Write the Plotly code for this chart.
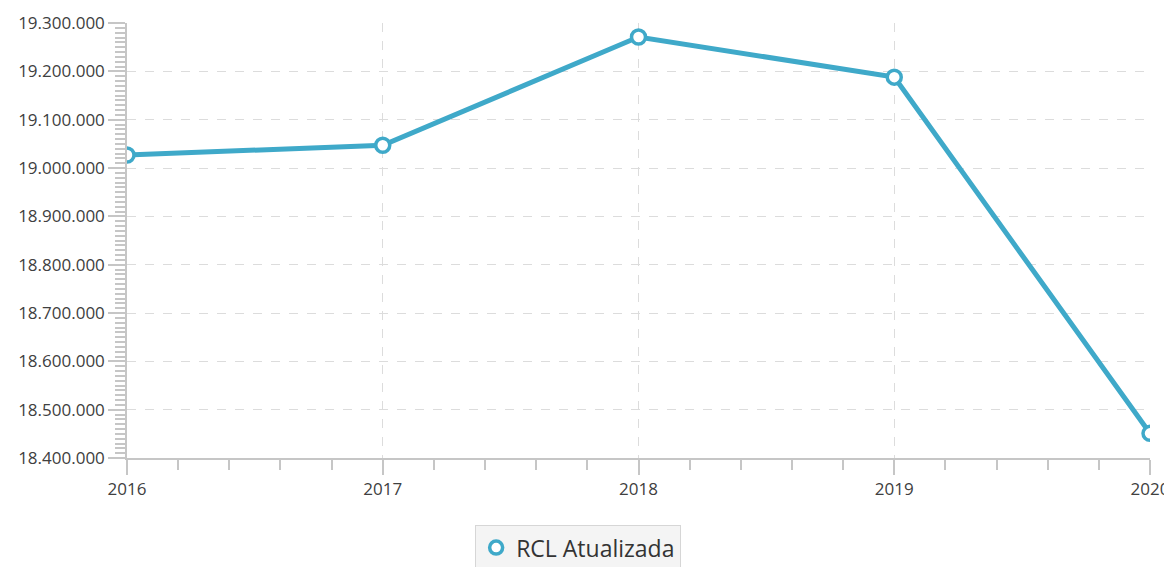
import plotly.graph_objects as go

years = [2016, 2017, 2018, 2019, 2020]
rcl_values = [19027000, 19047000, 19271000, 19188000, 18451000]
series_name = "RCL Atualizada"

line_color = "#3fa9c9"
axis_color = "#c6c6c6"
grid_color = "#dcdcdc"
font_family = "Open Sans, Noto Sans, sans-serif"

fig = go.Figure()
fig.add_trace(go.Scatter(
    x=years, y=rcl_values, mode="lines+markers", name=series_name,
    showlegend=False, cliponaxis=True,
    line=dict(color=line_color, width=5),
    marker=dict(symbol="circle", size=14, color="white",
                line=dict(color=line_color, width=3.5)),
))
# legend entry (marker only, as in the reference)
fig.add_trace(go.Scatter(
    x=[None], y=[None], mode="markers", name=series_name,
    marker=dict(symbol="circle", size=13, color="white",
                line=dict(color=line_color, width=3.5)),
))

# page body has an 8px default margin, margins compensate for it
fig.update_layout(
    width=1172, height=567,
    margin=dict(l=119, r=30, t=15, b=117),
    paper_bgcolor="white", plot_bgcolor="white",
    separators=",.",
    font=dict(family=font_family, color="#404040", size=17),
    legend=dict(
        orientation="h", x=0.441, xanchor="center",
        yref="container", y=0.088, yanchor="top",
        bgcolor="#f4f4f4", bordercolor="#d6d6d6", borderwidth=1,
        font=dict(size=23, color="#333333", family=font_family),
    ),
    xaxis=dict(
        range=[2016, 2020], tickmode="linear", tick0=2016, dtick=1,
        automargin=False,
        showline=True, linecolor=axis_color, linewidth=1.5,
        ticks="outside", ticklen=15, tickcolor=axis_color, tickwidth=1.5,
        showgrid=True, gridcolor=grid_color, griddash="dash", gridwidth=1,
        zeroline=False,
        tickfont=dict(size=17, color="#404040"),
        minor=dict(dtick=0.2, ticks="outside", ticklen=10, tickcolor=axis_color,
                   tickwidth=1.5, showgrid=False),
    ),
    yaxis=dict(
        range=[18400000, 19300000], tickmode="linear", tick0=18400000, dtick=100000,
        tickformat=",.0f", automargin=False,
        showline=True, linecolor=axis_color, linewidth=1.5,
        ticks="outside", ticklen=17, tickcolor=axis_color, tickwidth=1.5,
        showgrid=True, gridcolor=grid_color, griddash="dash", gridwidth=1,
        zeroline=False,
        tickfont=dict(size=17, color="#404040"),
        minor=dict(dtick=10000, ticks="outside", ticklen=10, tickcolor=axis_color,
                   tickwidth=1.5, showgrid=False),
    ),
)

fig.write_html("out.html")
